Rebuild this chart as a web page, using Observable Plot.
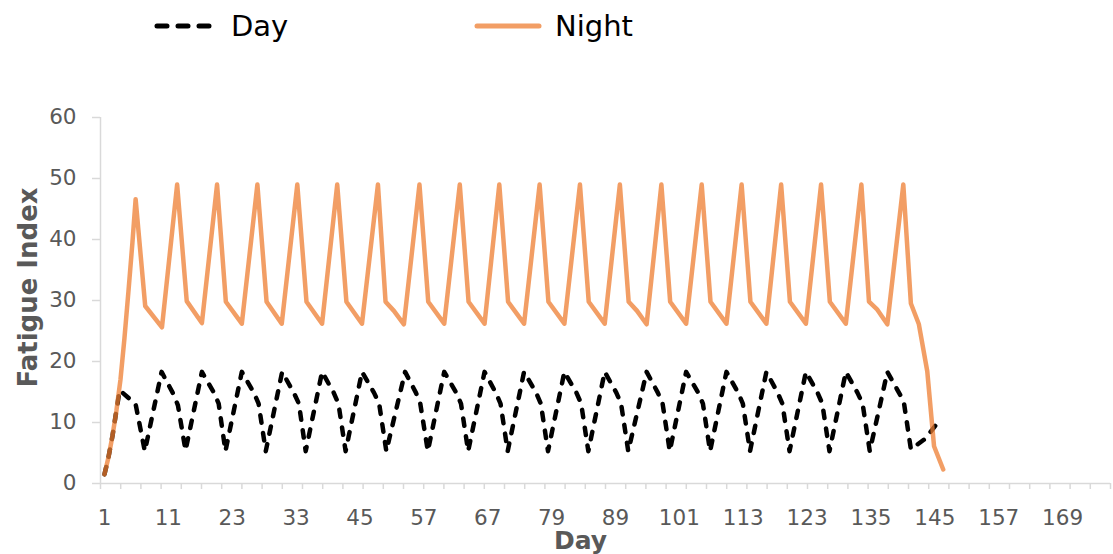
<!DOCTYPE html>
<html>
<head>
<meta charset="utf-8">
<script src="https://cdn.jsdelivr.net/npm/d3@7"></script>
<script src="https://cdn.jsdelivr.net/npm/@observablehq/plot@0.6"></script>
<style>
  html, body { margin: 0; padding: 0; background: #fff; }
  #legend { position: relative; width: 1113px; height: 90px; font-family: "DejaVu Sans", sans-serif; }
  #legend .item { position: absolute; top: 6px; display: flex; align-items: center; font-size: 29px; color: #000; }
  #legend svg { display: block; margin-right: 12px; }
</style>
</head>
<body>
<div id="legend"></div>
<div id="chart"></div>
<script>
// ---- data (x = row position of each vertex along the category axis) ----
const seriesNames = ["Day", "Night"];
const seriesColors = ["#000000", "#ED7D31"];

const xTickLabels = ["1","11","23","33","45","57","67","79","89","101","113","123","135","145","157","169"];
const xTickRows   = [0,16,32,48,64,80,96,112,128,144,160,176,192,208,224,240];
const yTicks = [0,10,20,30,40,50,60];

const nightRows = [0,1,2,3,4,5,6,7,
  7.8,10.2,14.4,
  18.2,20.6,24.4,
  28.2,30.4,34.4,
  38.3,40.6,44.4,
  48.3,50.6,54.5,
  58.3,60.6,64.5,
  68.5,70.4,72.5,75,
  78.9,81.1,85.1,
  89,91.2,95.2,
  98.9,101.1,105.1,
  109,111.2,115.2,
  119.1,121.3,125.3,
  129.1,131.3,133.4,135.8,
  139.5,141.7,145.7,
  149.6,151.8,155.8,
  159.6,161.8,165.8,
  169.5,171.7,175.7,
  179.5,181.7,185.7,
  189.6,191.5,193.6,196.1,
  200.1,202,204,206.1,207.8,210.1];
const nightVals = [1.5,4.3,7.8,12,17,23.8,31.5,39.5,
  46.6,29.1,25.6,
  49,29.9,26.3,
  49,29.8,26.2,
  49,29.8,26.2,
  49,29.8,26.2,
  49,29.8,26.2,
  49,29.8,28.3,26.1,
  49,29.8,26.2,
  49,29.8,26.2,
  49,29.8,26.2,
  49,29.8,26.2,
  49,29.8,26.2,
  49,29.8,28.3,26.1,
  49,29.8,26.2,
  49,29.8,26.2,
  49,29.8,26.2,
  49,29.8,26.2,
  49,29.8,26.2,
  49,29.8,28.5,26.1,
  49,29.5,26.1,18.4,6.1,2.3];

const dayRows = [0,1,2,3,3.8,7.8,10.1,
  14.3,17.4,18.4,20.3,
  24.4,27.4,28.6,30.3,
  34.4,37.4,38.6,40.4,
  44.5,47.4,48.7,50.4,
  54.5,57.4,58.6,60.4,
  64.5,67.5,68.8,70.6,
  75.3,78,79.1,81,
  85.1,88.1,89.3,91.1,
  95.2,98,99.2,101,
  105.1,108.1,109.3,111.1,
  115.2,118.2,119.4,121.2,
  125.3,128.2,129.4,131.2,
  135.8,138.6,139.8,141.6,
  145.7,148.7,149.9,151.7,
  155.8,158.7,159.9,161.7,
  165.8,168.6,169.8,171.6,
  175.7,178.6,179.8,181.6,
  185.7,188.6,189.9,191.7,
  196.1,199,200.2,202,
  205.5,209];
const dayVals = [1.5,4.3,7.8,12,15.3,13,5.3,
  18.3,14.5,12.8,5.4,
  18.3,14.9,13.1,5.3,
  18.3,14.9,13.1,5.3,
  18.3,14.9,13.1,5.3,
  18.3,14.9,13.1,5.3,
  18.3,14.9,13.1,5.3,
  18.3,14.9,13.1,5.3,
  18.3,14.9,13.1,5.3,
  18.3,14.9,13.1,5.3,
  18.3,14.9,13.1,5.3,
  18.3,14.9,13.1,5.3,
  18.3,14.9,13.1,5.3,
  18.3,14.9,13.1,5.3,
  18.3,14.9,13.1,5.3,
  18.3,14.9,13.1,5.3,
  18.3,14.9,13.1,5.3,
  18.3,14.9,13.1,5.3,
  18.3,14.9,13.1,5.3,
  18.3,14.9,13.5,5.6,
  7.3,10.2];

// ---- build tables ----
const dayData = dayRows.map((r, i) => ({row: r, value: dayVals[i], series: "Day"}));
const nightData = nightRows.map((r, i) => ({row: r, value: nightVals[i], series: "Night"}));

// ---- legend ----
const legend = document.getElementById("legend");
const legendItems = [
  {name: seriesNames[0], color: seriesColors[0], dash: "10,11", opacity: 1, left: 153, w: 66},
  {name: seriesNames[1], color: seriesColors[1], dash: null, opacity: 0.75, left: 473, w: 70}
];
for (const it of legendItems) {
  const div = document.createElement("div");
  div.className = "item";
  div.style.left = it.left + "px";
  const ns = "http://www.w3.org/2000/svg";
  const s = document.createElementNS(ns, "svg");
  s.setAttribute("width", it.w);
  s.setAttribute("height", 40);
  const l = document.createElementNS(ns, "line");
  l.setAttribute("x1", 4); l.setAttribute("x2", it.w - 4);
  l.setAttribute("y1", 20); l.setAttribute("y2", 20);
  l.setAttribute("stroke", it.color);
  l.setAttribute("stroke-opacity", it.opacity);
  l.setAttribute("stroke-width", 5);
  l.setAttribute("stroke-linecap", "round");
  if (it.dash) l.setAttribute("stroke-dasharray", it.dash);
  s.appendChild(l);
  div.appendChild(s);
  const t = document.createElement("span");
  t.textContent = it.name;
  div.appendChild(t);
  legend.appendChild(div);
}

// ---- chart ----
const axisGray = "#d9d9d9";
const textGray = "#595959";
const tickMarkRows = d3.range(0, 51).map(k => -1 + k * 5.06);

const chart = Plot.plot({
  width: 1113,
  height: 464,
  marginTop: 27,
  marginBottom: 71,
  marginLeft: 100,
  marginRight: 3,
  style: {fontFamily: "DejaVu Sans, sans-serif", fontSize: "21px", color: textGray, background: "#fff"},
  x: {type: "linear", domain: [-1, 252], axis: null},
  y: {domain: [0, 60], axis: null},
  marks: [
    Plot.ruleY([0], {stroke: axisGray, strokeWidth: 1.5}),
    Plot.ruleX([-1], {y1: 0, y2: 60, stroke: axisGray, strokeWidth: 1.5}),
    Plot.axisX(tickMarkRows, {anchor: "bottom", tickSize: 6, tickFormat: () => "", stroke: axisGray, strokeWidth: 1.5, label: null}),
    Plot.axisX(xTickRows, {anchor: "bottom", tickSize: 0, tickPadding: 26, tickFormat: d => xTickLabels[xTickRows.indexOf(d)], fill: textGray, fontSize: 21.5, label: null}),
    Plot.axisY(yTicks, {anchor: "left", tickSize: 8, tickPadding: 16, stroke: axisGray, strokeWidth: 1.5, fill: textGray, fontSize: 21.5, label: null}),
    Plot.text(["Fatigue Index"], {frameAnchor: "left", textAnchor: "middle", dx: -72, dy: -13, rotate: -90, fontWeight: "bold", fontSize: 26, fill: textGray}),
    Plot.text(["Day"], {frameAnchor: "bottom", textAnchor: "middle", dx: -25, dy: 65, fontWeight: "bold", fontSize: 25, fill: textGray}),
    Plot.line(dayData, {x: "row", y: "value", stroke: seriesColors[0], strokeWidth: 4.5, strokeDasharray: "7.5,10.5", strokeLinecap: "round", strokeLinejoin: "round"}),
    Plot.line(nightData, {x: "row", y: "value", stroke: seriesColors[1], strokeOpacity: 0.75, strokeWidth: 4.5, strokeLinecap: "round", strokeLinejoin: "round"})
  ]
});
document.getElementById("chart").appendChild(chart);
</script>
</body>
</html>
